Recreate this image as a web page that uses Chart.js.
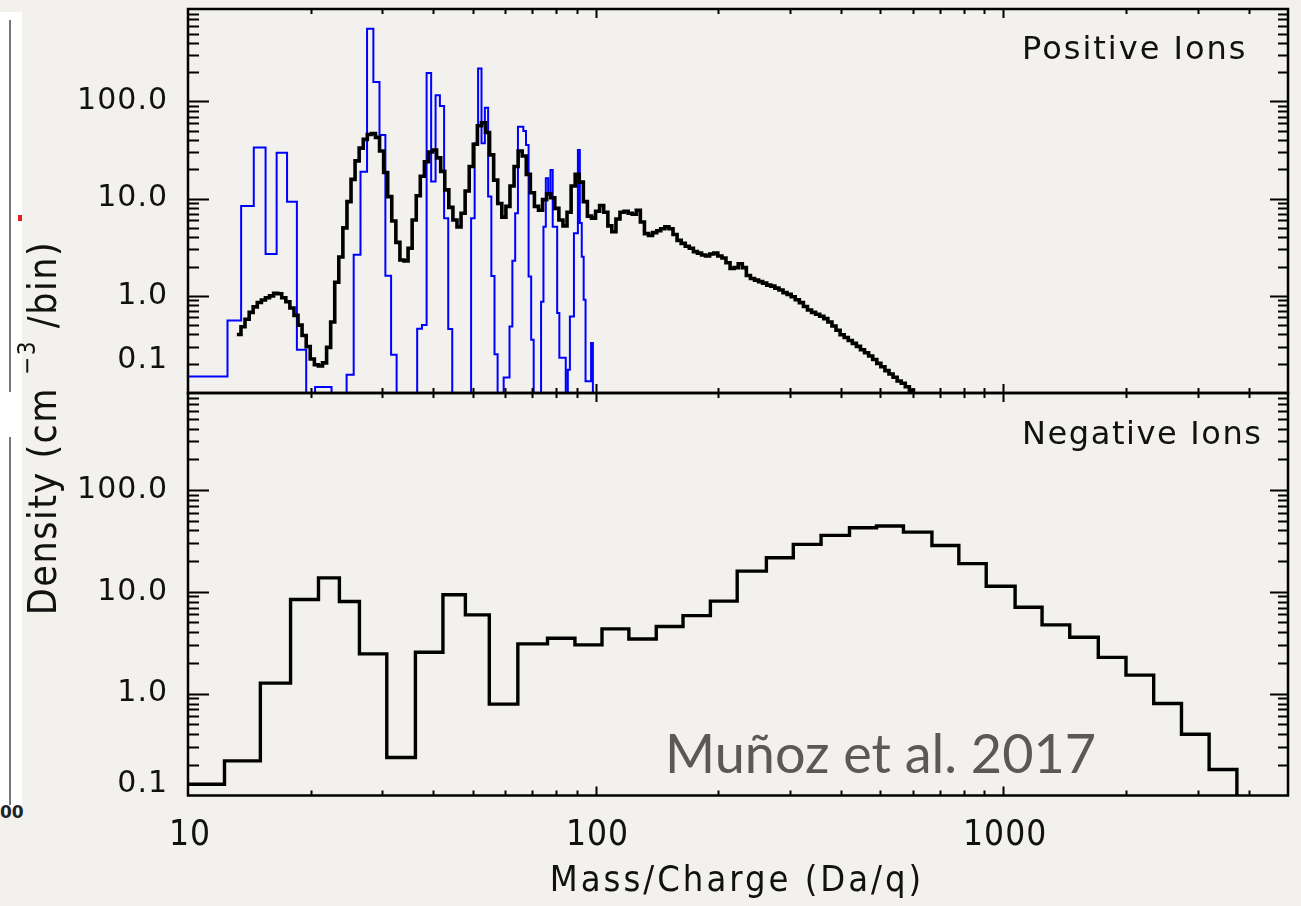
<!DOCTYPE html>
<html><head><meta charset="utf-8">
<script src="https://cdn.jsdelivr.net/npm/chart.js@4.4.1/dist/chart.umd.min.js"></script>
<style>
html,body{margin:0;padding:0;background:#f2f1ee;width:1301px;height:906px;overflow:hidden;}
canvas{position:absolute;left:0;top:0;}
#strip{position:absolute;left:0;top:12px;width:22px;height:802px;background:#ffffff;}
#strip .l1{position:absolute;left:9px;top:8px;width:2px;height:372px;background:#777;}
#strip .l2{position:absolute;left:9px;top:425px;width:2px;height:368px;background:#777;}
#strip .red{position:absolute;left:18px;top:203px;width:4px;height:6px;background:#e02020;}
#strip .t{position:absolute;left:0px;top:790px;font:bold 17px "DejaVu Sans";color:#222;}
</style></head><body>
<div id="strip"><div class="l1"></div><div class="l2"></div><div class="red"></div><div class="t">00</div></div>
<canvas id="cTop" width="1301" height="906"></canvas>
<canvas id="cBot" width="1301" height="906"></canvas>
<script>
// ---------- axis ranges & tick labels ----------
const xRange = [10, 5000];
const yRange = [0.1, 895];
const yTickValues = [0.1, 1, 10, 100];
const yTickLabels = ['0.1', '1.0', '10.0', '100.0'];
const xTickValues = [10, 100, 1000];
const xTickLabels = ['10', '100', '1000'];
const FLOOR = 0.01; // empty bins (below plotted range)

// ---------- Positive ions: black (bin left edges, m/z) ----------
const posEdges = [13.18,13.49,13.80,14.13,14.45,14.79,15.14,15.49,15.85,16.22,16.60,16.98,17.38,17.78,18.20,18.62,19.05,19.50,19.95,20.42,
20.89,21.38,21.88,22.39,22.91,23.44,23.99,24.55,25.12,25.70,26.30,26.92,27.54,28.18,28.84,29.51,30.20,30.90,31.62,32.36,
33.11,33.88,34.67,35.48,36.31,37.15,38.02,38.90,39.81,40.74,41.69,42.66,43.65,44.67,45.71,46.77,47.86,48.98,50.12,51.29,
52.48,53.70,54.95,56.23,57.54,58.88,60.26,61.66,63.10,64.57,66.07,67.61,69.18,70.79,72.44,74.13,75.86,77.62,79.43,81.28,
83.18,85.11,87.10,89.13,91.20,93.33,95.50,97.72,100.0,102.3,104.7,107.2,109.6,112.2,114.8,117.5,120.2,123.0,125.9,128.8,
131.8,134.9,138.0,141.3,144.5,147.9,151.4,154.9,158.5,162.2,166.0,169.8,173.8,177.8,182.0,186.2,190.5,195.0,199.5,204.2,
208.9,213.8,218.8,223.9,229.1,234.4,239.9,245.5,251.2,257.0,263.0,269.2,275.4,281.8,288.4,295.1,302.0,309.0,316.2,323.6,
331.1,338.8,346.7,354.8,363.1,371.5,380.2,389.0,398.1,407.4,416.9,426.6,436.5,446.7,457.1,467.7,478.6,489.8,501.2,512.9,
524.8,537.0,549.5,562.3,575.4,588.8,602.6,616.6];
const posValues = [0.40,0.48,0.575,0.676,0.769,0.855,0.906,0.957,1.00,1.06,1.05,0.955,0.87,0.75,0.63,0.50,0.39,0.30,0.224,0.195,
0.19,0.204,0.295,0.537,1.38,2.51,5.01,9.33,15.8,24.5,33.1,40.7,45.7,46.8,42.7,30.9,18.6,10.5,5.89,3.55,
2.34,2.29,3.09,6.03,10.7,17.0,24.0,30.2,31.6,26.3,19.1,12.3,8.13,6.03,5.13,7.08,12.0,21.4,36.3,56.2,
60.3,47.9,28.2,15.5,8.91,6.46,8.32,13.5,21.4,30.9,27.5,17.8,11.5,8.32,7.59,9.77,11.2,10.2,7.94,6.03,
5.25,7.24,13.5,17.8,14.8,9.33,6.61,6.31,7.41,8.51,7.24,5.25,4.57,6.17,7.24,7.41,7.08,6.92,7.59,5.75,
4.37,4.17,4.47,4.68,4.90,5.13,4.90,4.27,3.72,3.47,3.24,3.09,2.85,2.75,2.63,2.57,2.69,2.75,2.57,2.45,
2.19,1.91,1.95,2.14,1.95,1.62,1.51,1.45,1.40,1.35,1.29,1.26,1.20,1.15,1.08,1.035,0.977,0.912,0.851,0.776,
0.716,0.676,0.646,0.617,0.582,0.537,0.490,0.442,0.398,0.372,0.347,0.324,0.302,0.279,0.260,0.240,0.221,0.202,0.186,0.170,
0.157,0.145,0.133,0.126,0.116,0.107,0.098];

// ---------- Positive ions: blue (unit-mass bins) ----------
const blueMass = [10,11,12,13,14,15,16,17,18,19,20,21,22,23,24,25,26,27,28,29,30,31,32,33,34,35,36,37,38,39,
40,41,42,43,44,45,46,47,48,49,50,51,52,53,54,55,56,57,58,59,60,61,62,63,64,65,66,67,68,69,
70,71,72,73,74,75,76,77,78,79,80,81,82,83,84,85,86,87,88,89,90,91,92,93,94,95,96,97,98,99];
const blueValues = [0.148,0.148,0.148,0.557,8.41,33.7,2.70,29.7,9.31,0.279,FLOOR,0.115,0.115,FLOOR,FLOOR,0.154,2.64,18.9,562,159,
45.2,1.61,0.248,FLOOR,FLOOR,FLOOR,FLOOR,0.458,0.5,197,15.0,116,89.7,6.30,0.455,FLOOR,FLOOR,FLOOR,FLOOR,FLOOR,
6.30,37.1,219,37.1,86.1,10.5,1.6,0.25,FLOOR,FLOOR,0.144,0.144,0.483,2.3,7.08,55,55,49.7,35.6,1.58,
0.353,FLOOR,FLOOR,FLOOR,0.87,5.15,16.2,11.4,19.7,5.15,5.15,0.664,0.231,0.231,0.231,FLOOR,0.173,0.612,0.612,4.41,
4.41,31.6,5.62,2.53,0.91,0.132,0.132,0.132,0.327,FLOOR];

// ---------- Negative ions (bin left edges, m/z) ----------
const negEdges = [10,12.29,15.05,17.85,20.90,23.52,26.34,30.74,36.14,42.22,47.93,54.86,64.46,76.22,89.0,103.7,120.7,140.9,163.9,191.3,
222.6,262.5,305.6,357.5,419.8,489,569.4,668.8,778.6,908.9,1070,1246,1457,1712,2002,2341,2739,3202,3746];
const negValues = [0.129,0.219,1.27,8.41,13.7,8.03,2.46,0.236,2.55,9.35,5.94,0.79,3.08,3.50,3.01,4.32,3.44,4.56,5.84,8.09,
15.96,21.6,29.2,35.8,42.6,44.2,38.5,28.5,18.9,11.35,7.06,4.73,3.58,2.27,1.52,0.80,0.40,0.18];

// ---------- build step points ----------
function stepFromEdges(edges, values, tail){
  return edges.map((e,i)=>({x:e, y: i<values.length ? values[i] : tail}));
}
const blackPts = stepFromEdges(posEdges, posValues, posValues[posValues.length-1]);
const bluePts = blueMass.map((m,i)=>({x:m-0.5, y:blueValues[i]}));
bluePts.push({x: blueMass[blueMass.length-1]+0.5, y: FLOOR});
const negPts = stepFromEdges(negEdges, negValues, FLOOR);

const SANS = '"DejaVu Sans", sans-serif';
const COND = '"DejaVu Sans Condensed", "DejaVu Sans", sans-serif';

function setSpacing(ctx, px){ if ('letterSpacing' in ctx) ctx.letterSpacing = px + 'px'; }

function drawFrame(chart, opt){
  const {ctx, chartArea:a, scales:{x, y}} = chart;
  ctx.save();
  ctx.strokeStyle = '#000';
  ctx.lineWidth = 2;
  ctx.beginPath();
  for (let d=-1; d<=2; d++){
    for (let k=1; k<=9; k++){
      const v = k*Math.pow(10,d);
      if (v <= yRange[0]*1.0001 || v >= yRange[1]) continue;
      const py = Math.round(y.getPixelForValue(v))+0.5;
      const lenL = k===1 ? 21 : 11, lenR = k===1 ? 18 : 10;
      ctx.moveTo(a.left, py); ctx.lineTo(a.left+lenL, py);
      ctx.moveTo(a.right, py); ctx.lineTo(a.right-lenR, py);
    }
  }
  for (let d=1; d<=3; d++){
    for (let k=1; k<=9; k++){
      const v = k*Math.pow(10,d);
      if (v <= xRange[0]*1.0001 || v >= xRange[1]) continue;
      const px = Math.round(x.getPixelForValue(v))+0.5;
      const len = k===1 ? 9 : 5;
      ctx.moveTo(px, a.top); ctx.lineTo(px, a.top+len);
      ctx.moveTo(px, a.bottom); ctx.lineTo(px, a.bottom-len);
    }
  }
  ctx.stroke();
  ctx.lineWidth = 2.5;
  ctx.strokeRect(a.left, a.top, a.right-a.left, a.bottom-a.top);

  // y tick labels
  ctx.fillStyle = '#111';
  ctx.font = '30px ' + SANS;
  setSpacing(ctx, 1);
  ctx.textAlign = 'right';
  ctx.textBaseline = 'middle';
  yTickValues.forEach((v,i)=>{
    const py = y.getPixelForValue(v) + (i===0 ? opt.lowLabelShift : 0);
    ctx.fillText(yTickLabels[i], 168, py);
  });

  // panel label
  ctx.font = '32px ' + SANS;
  setSpacing(ctx, opt.panelSpacing);
  ctx.textAlign = 'left';
  ctx.textBaseline = 'alphabetic';
  ctx.fillText(opt.panelLabel, 1022, opt.panelLabelY);

  if (opt.bottom){
    ctx.font = '35px ' + COND;
    setSpacing(ctx, 1);
    ctx.textAlign = 'center';
    ctx.textBaseline = 'middle';
    xTickValues.forEach((v,i)=>{
      ctx.fillText(xTickLabels[i], x.getPixelForValue(v)+2, 836);
    });
    ctx.font = '36px ' + COND;
    setSpacing(ctx, 3);
    ctx.fillText('Mass/Charge (Da/q)', 737, 882);

    // y title (rotated)
    ctx.save();
    ctx.translate(43, 428);
    ctx.rotate(-Math.PI/2);
    const p1 = 'Density (cm', sup = '\u22123', p2 = '/bin)';
    setSpacing(ctx, 1.5);
    ctx.font = '39px ' + COND;
    const w1 = ctx.measureText(p1).width, w2 = ctx.measureText(p2).width;
    ctx.font = '24px ' + COND;
    const ws = ctx.measureText(sup).width;
    const gap = 12;
    const total = w1 + gap + ws + gap + w2;
    let sx = -total/2;
    ctx.textAlign = 'left';
    ctx.textBaseline = 'alphabetic';
    ctx.font = '39px ' + COND;
    ctx.fillText(p1, sx, 13);
    sx += w1 + gap;
    ctx.font = '24px ' + COND;
    ctx.fillText(sup, sx, -8);
    sx += ws + gap;
    ctx.font = '39px ' + COND;
    ctx.fillText(p2, sx, 13);
    ctx.restore();

    // citation
    setSpacing(ctx, 0);
    ctx.fillStyle = '#5b5956';
    ctx.font = '54px Lato, "Open Sans", sans-serif';
    ctx.textAlign = 'left';
    ctx.textBaseline = 'alphabetic';
    ctx.fillText('Mu\u00f1oz et al. 2017', 665, 773);
  }
  ctx.restore();
}

const framePlugin = {
  id: 'idlFrame',
  afterDatasetsDraw(chart, args, opts){ drawFrame(chart, opts); }
};

function makeChart(id, datasets, padding, frameOpts){
  return new Chart(document.getElementById(id), {
    type: 'line',
    data: { datasets },
    options: {
      responsive: false,
      animation: false,
      devicePixelRatio: 1,
      events: [],
      layout: { padding },
      plugins: { legend:{display:false}, tooltip:{enabled:false}, idlFrame: frameOpts },
      scales: {
        x: { type:'logarithmic', min:xRange[0], max:xRange[1], display:false },
        y: { type:'logarithmic', min:yRange[0], max:yRange[1], display:false }
      }
    },
    plugins: [framePlugin]
  });
}

const lineBase = { parsing:true, pointRadius:0, tension:0, fill:false, stepped:'before', borderJoinStyle:'miter', borderCapStyle:'butt' };

makeChart('cTop', [
  Object.assign({ label:'Positive ions (model)', data:blackPts, borderColor:'#000000', borderWidth:3.6, order:0 }, lineBase),
  Object.assign({ label:'Positive ions (IBS)', data:bluePts, borderColor:'#0000ff', borderWidth:2, order:1 }, lineBase)
], {left:188, right:13, top:9, bottom:513},
{ panelLabel:'Positive Ions', panelLabelY:59, lowLabelShift:-33, panelSpacing:2, bottom:false });

makeChart('cBot', [
  Object.assign({ label:'Negative ions', data:negPts, borderColor:'#000000', borderWidth:3.4, order:0 }, lineBase)
], {left:188, right:13, top:393, bottom:110.5},
{ panelLabel:'Negative Ions', panelLabelY:444, lowLabelShift:-11, panelSpacing:1.6, bottom:true });
</script>
</body></html>
